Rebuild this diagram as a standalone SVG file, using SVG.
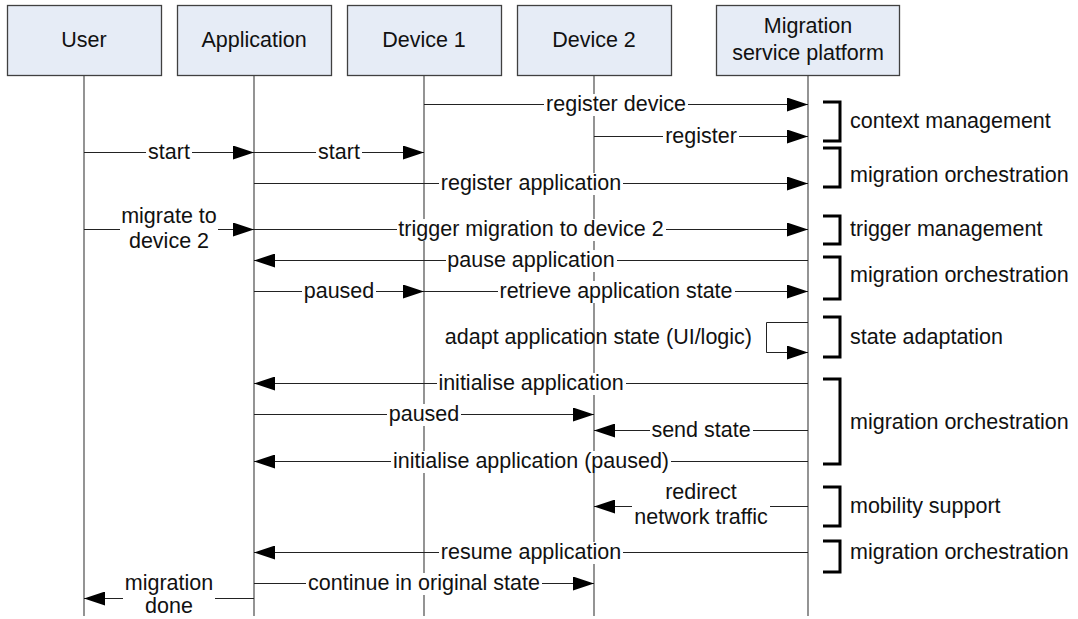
<svg xmlns="http://www.w3.org/2000/svg" width="1078" height="619" viewBox="0 0 1078 619">
<defs>
<style>
.box{fill:#e6ecf6;stroke:#404040;stroke-width:1.3}
.life{stroke:#5a5a5a;stroke-width:1.3}
.msg{stroke:#222;stroke-width:1;fill:none;marker-end:url(#ah)}
.lbg{fill:#fff}
.t{font-family:"Liberation Sans",Arial,sans-serif;font-size:21.5px;fill:#111}
.c{text-anchor:middle}
.br{fill:none;stroke:#000;stroke-width:3}
</style>
<marker id="ah" viewBox="0 0 21 14" refX="21" refY="7" markerWidth="21" markerHeight="14" markerUnits="userSpaceOnUse" orient="auto">
<path d="M0,0 L21,7 L0,14 z" fill="#000"/>
</marker>
</defs>
<rect width="1078" height="619" fill="#fff"/>

<g id="user">
<line class="life" x1="84" y1="75" x2="84" y2="616"/>
<rect class="box" x="7.5" y="5.5" width="154" height="70"/>
<text class="t c" x="84" y="47">User</text>
</g>
<g id="application">
<line class="life" x1="254" y1="75" x2="254" y2="616"/>
<rect class="box" x="177.5" y="5.5" width="154" height="70"/>
<text class="t c" x="254" y="47">Application</text>
</g>
<g id="device1">
<line class="life" x1="424" y1="75" x2="424" y2="616"/>
<rect class="box" x="347.5" y="5.5" width="154" height="70"/>
<text class="t c" x="424" y="47">Device 1</text>
</g>
<g id="device2">
<line class="life" x1="594" y1="75" x2="594" y2="616"/>
<rect class="box" x="517.5" y="5.5" width="154" height="70"/>
<text class="t c" x="594" y="47">Device 2</text>
</g>
<g id="platform">
<line class="life" x1="808" y1="75" x2="808" y2="616"/>
<rect class="box" x="716.5" y="5.5" width="183" height="70"/>
<text class="t c" x="808" y="33">Migration</text>
<text class="t c" x="808" y="60">service platform</text>
</g>

<g id="connectors">
<g><line class="msg" x1="424" y1="104.5" x2="808" y2="104.5"/><rect class="lbg" x="544" y="94" width="144" height="22"/><text class="t c" x="616" y="111">register device</text></g>
<g><line class="msg" x1="594" y1="136.5" x2="808" y2="136.5"/><rect class="lbg" x="663" y="126" width="76" height="22"/><text class="t c" x="701" y="143">register</text></g>
<g><line class="msg" x1="84" y1="152.5" x2="254" y2="152.5"/><rect class="lbg" x="146" y="142" width="46" height="22"/><text class="t c" x="169" y="159">start</text></g>
<g><line class="msg" x1="254" y1="152.5" x2="424" y2="152.5"/><rect class="lbg" x="316" y="142" width="46" height="22"/><text class="t c" x="339" y="159">start</text></g>
<g><line class="msg" x1="254" y1="183.5" x2="808" y2="183.5"/><rect class="lbg" x="439" y="173" width="184" height="22"/><text class="t c" x="531" y="190">register application</text></g>
<g><line class="msg" x1="84" y1="229.5" x2="254" y2="229.5"/><rect class="lbg" x="120" y="206" width="98" height="48"/><text class="t c" x="169" y="223">migrate to</text><text class="t c" x="169" y="248">device 2</text></g>
<g><line class="msg" x1="254" y1="229.5" x2="808" y2="229.5"/><rect class="lbg" x="397" y="219" width="269" height="22"/><text class="t c" x="531" y="236">trigger migration to device 2</text></g>
<g><line class="msg" x1="808" y1="260.5" x2="254" y2="260.5"/><rect class="lbg" x="446" y="250" width="171" height="22"/><text class="t c" x="531" y="267">pause application</text></g>
<g><line class="msg" x1="254" y1="291.5" x2="424" y2="291.5"/><rect class="lbg" x="302" y="281" width="74" height="22"/><text class="t c" x="339" y="298">paused</text></g>
<g><line class="msg" x1="424" y1="291.5" x2="808" y2="291.5"/><rect class="lbg" x="498" y="281" width="237" height="22"/><text class="t c" x="616" y="298">retrieve application state</text></g>
<g><polyline class="msg" points="808,322.5 766.5,322.5 766.5,352.5 808,352.5"/><text class="t" x="752" y="344" text-anchor="end">adapt application state (UI/logic)</text></g>
<g><line class="msg" x1="808" y1="383.5" x2="254" y2="383.5"/><rect class="lbg" x="437" y="373" width="189" height="22"/><text class="t c" x="531" y="390">initialise application</text></g>
<g><line class="msg" x1="254" y1="414.5" x2="594" y2="414.5"/><rect class="lbg" x="387" y="404" width="74" height="22"/><text class="t c" x="424" y="421">paused</text></g>
<g><line class="msg" x1="808" y1="430.5" x2="594" y2="430.5"/><rect class="lbg" x="650" y="420" width="103" height="22"/><text class="t c" x="701" y="437">send state</text></g>
<g><line class="msg" x1="808" y1="461.5" x2="254" y2="461.5"/><rect class="lbg" x="391" y="451" width="280" height="22"/><text class="t c" x="531" y="468">initialise application (paused)</text></g>
<g><line class="msg" x1="808" y1="506.5" x2="594" y2="506.5"/><rect class="lbg" x="632" y="482" width="138" height="48"/><text class="t c" x="701" y="499">redirect</text><text class="t c" x="701" y="524">network traffic</text></g>
<g><line class="msg" x1="808" y1="552.5" x2="254" y2="552.5"/><rect class="lbg" x="439" y="542" width="184" height="22"/><text class="t c" x="531" y="559">resume application</text></g>
<g><line class="msg" x1="254" y1="583.5" x2="594" y2="583.5"/><rect class="lbg" x="306" y="573" width="236" height="22"/><text class="t c" x="424" y="590">continue in original state</text></g>
<g><line class="msg" x1="254" y1="598.5" x2="84" y2="598.5"/><rect class="lbg" x="123" y="574" width="92" height="45"/><text class="t c" x="169" y="590">migration</text><text class="t c" x="169" y="613">done</text></g>
</g>

<g id="phases">
<path class="br" d="M823,102 H840 V141 H823"/><text class="t" x="850" y="128">context management</text>
<path class="br" d="M823,148 H840 V187 H823"/><text class="t" x="850" y="182">migration orchestration</text>
<path class="br" d="M823,216 H840 V244 H823"/><text class="t" x="850" y="236">trigger management</text>
<path class="br" d="M823,257 H840 V299 H823"/><text class="t" x="850" y="282">migration orchestration</text>
<path class="br" d="M823,317 H840 V357 H823"/><text class="t" x="850" y="344">state adaptation</text>
<path class="br" d="M823,379 H840 V464 H823"/><text class="t" x="850" y="429">migration orchestration</text>
<path class="br" d="M823,487 H840 V526 H823"/><text class="t" x="850" y="513">mobility support</text>
<path class="br" d="M823,541 H840 V572 H823"/><text class="t" x="850" y="559">migration orchestration</text>
</g>
</svg>
